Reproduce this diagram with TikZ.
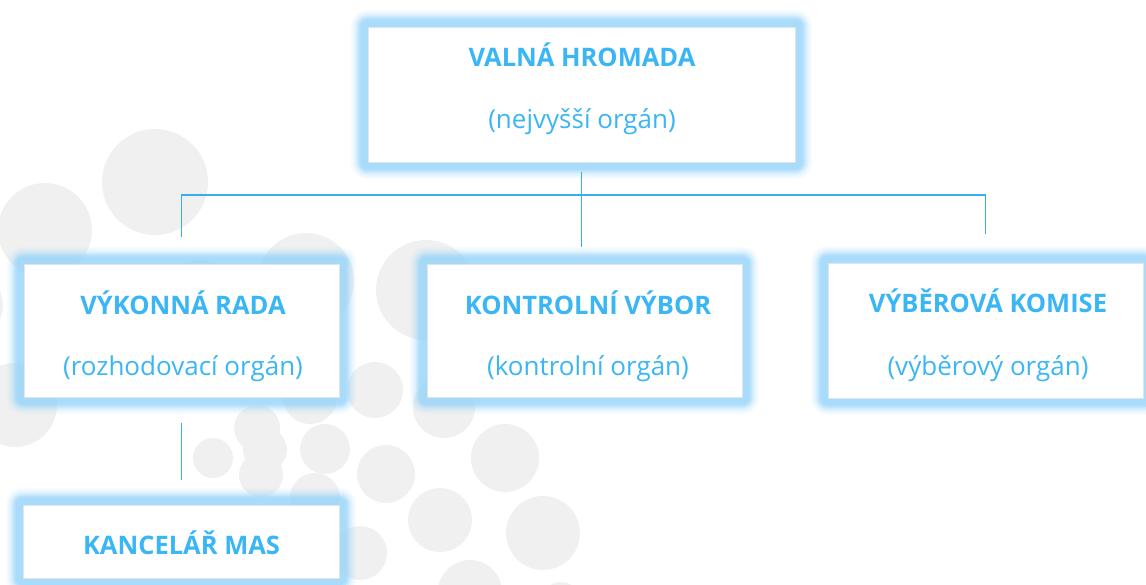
\documentclass[tikz,border=0pt]{standalone}
\usepackage{fontspec}
\setmainfont{Open Sans}
\usetikzlibrary{calc,backgrounds}
\definecolor{txtblue}{RGB}{59,182,245}
\definecolor{lineblue}{RGB}{56,174,242}
\definecolor{glowblue}{RGB}{160,215,250}
\definecolor{dotgrey}{RGB}{240,240,240}
\definecolor{edgegrey}{RGB}{222,230,235}
\newcommand{\orgglow}[1]{%
  \foreach \d/\o in {17/0.08,15/0.12,13/0.18,11/0.3,9/0.5,7/0.6}{%
    \fill[glowblue,opacity=\o,rounded corners=\d pt]
      ($(#1.south west)+(-\d pt,-\d pt)$) rectangle ($(#1.north east)+(\d pt,\d pt)$);}}
\begin{document}
\begin{tikzpicture}[x=1pt,y=-1pt,
  orgbox/.style={draw=edgegrey, line width=0.8pt, fill=white, minimum width=315pt, minimum height=133pt, inner sep=0pt},
  titletext/.style={text=txtblue, font=\fontsize{25.5}{30}\selectfont\bfseries, anchor=base, inner sep=0pt},
  subtext/.style={text=txtblue, font=\fontsize{26}{30}\selectfont, anchor=base, inner sep=0pt},
  conn/.style={color=lineblue, line width=1.8pt},
  dot/.style={fill=dotgrey}]
\useasboundingbox (0,0) rectangle (1146,584);

% boxes
\node[orgbox, minimum width=427pt, minimum height=135pt] (vh) at (581.5,94.5) {};
\node[orgbox] (vr) at (181.5,330.5) {};
\node[orgbox] (kv) at (584.5,330.5) {};
\node[orgbox, minimum height=135pt] (vk) at (985.5,330.5) {};
\node[orgbox, minimum width=316pt, minimum height=73pt] (km) at (181,541.5) {};

% texts
\node[titletext] (vh1) at (582,66) {VALNÁ HROMADA};
\node[subtext] (vh2) at (582,128) {(nejvyšší orgán)};
\node[titletext] (vr1) at (183,314) {VÝKONNÁ RADA};
\node[subtext] (vr2) at (183,375) {(rozhodovací orgán)};
\node[titletext] (kv1) at (588,314) {KONTROLNÍ VÝBOR};
\node[subtext] (kv2) at (588,375) {(kontrolní orgán)};
\node[titletext] (vk1) at (988,312) {VÝBĚROVÁ KOMISE};
\node[subtext] (vk2) at (988,375) {(výběrový orgán)};
\node[titletext] (km1) at (181.5,554) {KANCELÁŘ MAS};

% connectors
\coordinate (hline) at (0,195);
\coordinate (vhs) at ($(vh.south)+(0,10)$);
\coordinate (kvn) at ($(vh.south |- kv.north)+(0,-17)$);
\coordinate (vrn) at ($(vr.north)+(0,-27)$);
\coordinate (vkn) at ($(vk.north)+(0,-29)$);
\coordinate (vrs) at ($(vr.south)+(0,26)$);
\coordinate (kmn) at ($(km.north)+(0.5,-25)$);
\draw[conn] (vhs) -- (kvn);
\draw[conn] (vrn) -- (vrn |- hline) -- (vkn |- hline) -- (vkn);
\draw[conn] (vrs) -- (kmn);

\begin{scope}[on background layer]
  \foreach \cx/\cy/\r in {155/182/53, 45/230/47, -30/305/33, 306/281/48, 426/290/50,
      200/292/32, 15/405/42, 310/397/27, 375/390/28, 444/407/31, 257/428/23,
      213/458/20, 265/450/22, 261/475/22, 325/449/25, 386/474/29, 315/498/25,
      360/553/27, 440/520/32, 505/458/34, 543/533/37, 470/592/32, 561/602/20}{
    \fill[dot] (\cx,\cy) circle[radius=\r pt];
  }
  \orgglow{vh}
  \orgglow{vr}
  \orgglow{kv}
  \orgglow{vk}
  \orgglow{km}
\end{scope}
\end{tikzpicture}
\end{document}
